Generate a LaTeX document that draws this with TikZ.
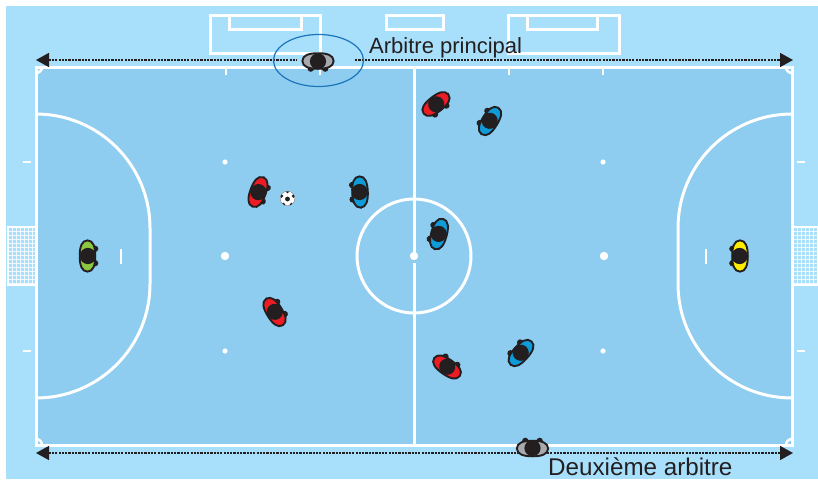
\documentclass[tikz,border=0pt]{standalone}
\usepackage{fontspec}
\setmainfont{Liberation Sans}
\usetikzlibrary{arrows.meta}
\definecolor{outerblue}{HTML}{A8DFFB}
\definecolor{fieldblue}{HTML}{8ECCF0}
\definecolor{ink}{HTML}{231F20}
\definecolor{pred}{HTML}{ED1C24}
\definecolor{pblue}{HTML}{0F9BD7}
\definecolor{pgreen}{HTML}{8DC63F}
\definecolor{pyellow}{HTML}{FFEC00}
\definecolor{pgrey}{HTML}{A7A9AC}
\definecolor{ringblue}{HTML}{1B75BB}
\tikzset{
  x=1pt,y=-1pt,
  fieldline/.style={draw=white,line width=3pt},
  thinline/.style={draw=white,line width=2.6pt},
  spot/.style={fill=white,draw=none},
  sideline/.style={ink,line width=1.5pt,dash pattern=on 2.2pt off 1.1pt},
  tipstart/.style={{Triangle[length=13pt,width=14pt,fill=ink,sep=0pt]}-},
  tipend/.style={-{Triangle[length=13pt,width=14pt,fill=ink,sep=0pt]}},
  tipboth/.style={{Triangle[length=13pt,width=14pt,fill=ink]}-{Triangle[length=13pt,width=14pt,fill=ink]}},
  tagtop/.style={font=\fontsize{22}{24}\selectfont,text=ink,inner sep=0pt,anchor=base west},
  tagbottom/.style={font=\fontsize{24.2}{26}\selectfont,text=ink,inner sep=0pt,anchor=base west},
  player/.pic={
    \fill[ink] (7.6,-7.2) circle (3.2) (7.6,7.2) circle (3.2);
    \draw[ink,line width=1.9pt,fill=#1] (0,-15.6) .. controls (5.8,-15.6) and (7.8,-9) .. (7.8,0) .. controls (7.8,9) and (5.8,15.6) .. (0,15.6) .. controls (-5.8,15.6) and (-7.8,9) .. (-7.8,0) .. controls (-7.8,-9) and (-5.8,-15.6) .. cycle;
    \fill[ink] (0.4,0) circle (8.1);
  },
  player/.default=pred
}
\begin{document}
\begin{tikzpicture}
\useasboundingbox (0,0) rectangle (818,479);
\fill[white] (0,0) rectangle (818,479);
\fill[outerblue] (6,6) rectangle (818,479);
\fill[fieldblue] (36,67) rectangle (792,445);
% goal nets
\foreach \gx/\gw in {8/28,793/25}{
  \begin{scope}
    \clip (\gx,227) rectangle ++(\gw,58);
    \foreach \i in {0,1,...,7}{
      \draw[white,line width=1pt,opacity=.8] (\gx+4*\i,227) -- +(0,58);
    }
    \foreach \j in {0,1,...,15}{
      \draw[white,line width=1pt,opacity=.8] (\gx,227+4*\j) -- +(\gw,0);
    }
  \end{scope}
  \draw[white,line width=2.2pt] (\gx,227) rectangle ++(\gw,58);
}
% goal and bench boxes
\draw[thinline,line width=3pt] (210,15) rectangle (320,53);
\draw[thinline,line width=3pt] (229,15) rectangle (301,29);
\draw[thinline,line width=3pt] (508,15) rectangle (619,53);
\draw[thinline,line width=3pt] (527,15) rectangle (597,29);
\draw[thinline,line width=3pt] (386,15) rectangle (443,29);
% field
\draw[fieldline] (36,67) rectangle (792,445);
\draw[fieldline] (414,67) -- (414,256);
\draw[fieldline] (414,263) -- (414,445);
\draw[fieldline] (414,256) circle (57);
\draw[fieldline] (36,114) arc[start angle=-90,end angle=0,radius=114] -- (150,284) arc[start angle=0,end angle=90,radius=114];
\draw[fieldline] (792,114) arc[start angle=-90,end angle=-180,radius=114] -- (678,284) arc[start angle=180,end angle=90,radius=114];
% corners
\draw[thinline] (36,73) arc[start angle=90,end angle=0,radius=6];
\draw[thinline] (786,67) arc[start angle=180,end angle=90,radius=6];
\draw[thinline] (36,439) arc[start angle=-90,end angle=0,radius=6];
\draw[thinline] (786,445) arc[start angle=180,end angle=270,radius=6];
% ticks
\foreach \tx in {226,320,509,603} \draw[thinline] (\tx,67) -- (\tx,75);
\foreach \ty in {162,351}{
  \draw[thinline] (23,\ty) -- (31,\ty);
  \draw[thinline] (797,\ty) -- (805,\ty);
}
\draw[white,line width=2.8pt] (121,249) -- (121,264);
\draw[white,line width=2.8pt] (706,249) -- (706,264);
% spots
\foreach \sx in {225,603} \foreach \sy in {162,351} \fill[spot] (\sx,\sy) circle (2.6);
\foreach \sx in {225,414,604} \fill[spot] (\sx,256) circle (4.2);
% touchline arrows
\coordinate (tl) at (36,60);
\coordinate (tr) at (793,60);
\coordinate (bl) at (36,453);
\coordinate (br) at (793,453);
\coordinate (gapl) at (297,60);
\coordinate (gapr) at (355,60);
\draw[sideline,tipboth] (bl) -- (br);
\draw[sideline,tipstart] (tl) -- (gapl);
\draw[sideline,tipend] (gapr) -- (tr);
% ball
\begin{scope}[shift={(287.5,198.5)}]
  \fill[white,draw=black!50,line width=.4pt] (0,0) circle (7.3);
  \begin{scope}
    \clip (0,0) circle (7.2);
    \fill[ink] (0,0.5) circle (2.4);
    \fill[ink] (-6,-2.5) circle (1.9) (6,-2.5) circle (1.9) (0,-7) circle (1.9) (-4,6) circle (1.9) (4,6) circle (1.9);
  \end{scope}
\end{scope}
% players
\pic (keeperL) [rotate=0] at (87.5,256) {player=pgreen};
\pic (keeperR) [rotate=180] at (740,256) {player=pyellow};
\pic (redA) [rotate=-20] at (258,192) {player=pred};
\pic (redB) [rotate=-52] at (436,104) {player=pred};
\pic (redC) [rotate=32] at (274.5,312) {player=pred};
\pic (redD) [rotate=55] at (447,367) {player=pred};
\pic (blueA) [rotate=182] at (360,192) {player=pblue};
\pic (blueB) [rotate=148] at (490,121) {player=pblue};
\pic (blueC) [rotate=165] at (439,234) {player=pblue};
\pic (blueD) [rotate=138] at (521,353) {player=pblue};
\pic (refA) [rotate=-90] at (318,61) {player=pgrey};
\pic (refB) [rotate=90] at (532.5,448.5) {player=pgrey};
% ring and labels
\draw[ringblue,line width=1.2pt] (318.5,60.5) ellipse (45 and 26);
\node[tagtop] (mainref) at (369,53) {Arbitre principal};
\node[tagbottom] (secondref) at (548,475.5) {Deuxième arbitre};
\end{tikzpicture}
\end{document}
